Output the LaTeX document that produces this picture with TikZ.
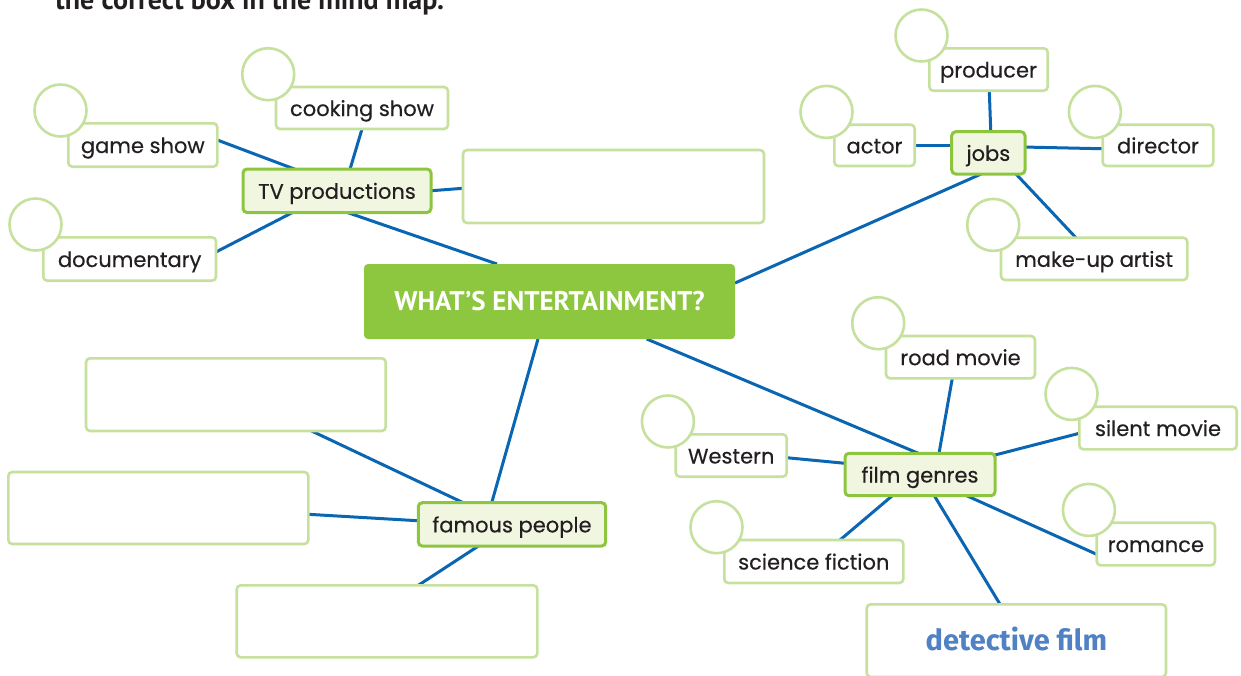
\documentclass[tikz,border=0pt]{standalone}
\usepackage{fontspec}
\setmainfont{Poppins}[FakeBold=0.35]
\newfontfamily\wordfont{Poppins}[FakeBold=0.35]
\newfontfamily\titlefont{PT Sans}
\newfontfamily\handfont{Fira Sans}
\usetikzlibrary{backgrounds}

\definecolor{leafline}{HTML}{C6E09E}
\definecolor{hubline}{HTML}{8CC63F}
\definecolor{hubfill}{HTML}{F1F6E0}
\definecolor{rootfill}{HTML}{8DC63F}
\definecolor{linkblue}{HTML}{0A66B2}
\definecolor{ink}{HTML}{231F20}
\definecolor{handblue}{HTML}{4F81C4}

% box node from its corner coordinates: style, name, x1, y1, x2, y2, text
\newcommand\mmnode[7]{%
  \node[#1, minimum width={(#5-#3)*1pt}, minimum height={(#6-#4)*1pt}]
    (#2) at ({(#3+#5)/2},{(#4+#6)/2}) {#7};}

\begin{document}
\begin{tikzpicture}[x=1pt,y=-1pt,
  leaf/.style={draw=leafline, line width=2.6pt, fill=white, rounded corners=4pt,
    inner sep=0pt, text=ink, font=\wordfont\fontsize{21}{25}\selectfont,
    text height=20pt, text depth=4pt},
  blank/.style={leaf},
  hub/.style={draw=hubline, line width=3pt, fill=hubfill, rounded corners=4pt,
    inner sep=0pt, text=ink, font=\wordfont\fontsize{21}{25}\selectfont,
    text height=20pt, text depth=4pt},
  root/.style={fill=rootfill, rounded corners=4pt, inner sep=0pt, text=white,
    font=\titlefont\bfseries\fontsize{27}{31}\selectfont,
    text height=22pt, text depth=4pt},
  ring/.style={circle, draw=leafline, line width=2.6pt, fill=white,
    minimum size=52pt, inner sep=0pt},
  link/.style={draw=linkblue, line width=3pt},
]
\useasboundingbox (0,0) rectangle (1241,675);
\clip (0,0) rectangle (1241,675);

% instruction line, cut off by the page edge
\node[anchor=base west, inner sep=0pt, text=ink,
  font=\titlefont\bfseries\fontsize{28}{32}\selectfont] (instr) at (55,9.5)
  {the correct box in the mind map.};

% centre
\mmnode{root}{root}{364}{264}{735}{339}{WHAT’S ENTERTAINMENT?}

% TV productions branch
\mmnode{hub}{tv}{243}{169}{431}{212.5}{TV productions}
\mmnode{leaf}{cook}{276}{87}{448}{129}{cooking show}
\mmnode{leaf}{game}{68.3}{123.3}{217.3}{166.7}{game show}
\mmnode{leaf}{doc}{43.3}{237.3}{216}{280.7}{documentary}
\mmnode{blank}{tvblank}{463}{150}{764}{223}{}

% jobs branch
\mmnode{hub}{jobs}{951.7}{131.7}{1025}{174}{jobs}
\mmnode{leaf}{prod}{929.3}{48.3}{1047.7}{90.7}{producer}
\mmnode{leaf}{actor}{834.3}{124.7}{914.7}{166}{actor}
\mmnode{leaf}{dir}{1102.7}{124.7}{1213.3}{166}{director}
\mmnode{leaf}{makeup}{1001}{237.7}{1187.3}{280}{make-up artist}

% film genres branch
\mmnode{hub}{film}{845}{453.3}{995}{495.7}{film genres}
\mmnode{leaf}{road}{886}{336}{1035}{378.3}{road movie}
\mmnode{leaf}{silent}{1079.3}{406.7}{1236.7}{449.3}{silent movie}
\mmnode{leaf}{romance}{1096.7}{522.7}{1215}{565.3}{romance}
\mmnode{leaf}{western}{675.7}{434.3}{786.7}{476.7}{Western}
\mmnode{leaf}{scifi}{724.3}{540}{903.3}{583}{science fiction}
\mmnode{blank}{detective}{866.7}{604.3}{1166}{677}{}
\node[text=handblue, font=\handfont\bfseries\fontsize{29}{32}\selectfont,
  inner sep=0pt, text height=24pt, text depth=4pt] (dettext) at (1016.4,640.8)
  {detective film};

% famous people branch
\mmnode{hub}{famous}{418.3}{502.7}{605.7}{546}{famous people}
\mmnode{blank}{famA}{86}{358.3}{385.7}{431}{}
\mmnode{blank}{famB}{8.3}{472}{308.3}{544}{}
\mmnode{blank}{famC}{236.7}{585.3}{537.3}{657.3}{}

% tick circles at the corners of the word boxes
\foreach \b in {cook,game,doc,prod,actor,dir,makeup,road,silent,romance,western,scifi}
  \node[ring] (\b-ring) at ([shift={(-6.5,-11.5)}]\b.north west) {};

% connectors
\begin{scope}[on background layer]
  \draw[link] ([shift={(74.5,-5)}]game.center) -- ([shift={(-42,-21.5)}]tv.center);
  \draw[link] ([shift={(0,21)}]cook.center) -- ([shift={(13,-21.5)}]tv.center);
  \draw[link] ([shift={(86.3,-7)}]doc.center) -- ([shift={(-44,21.5)}]tv.center);
  \draw[link] ([shift={(94,0)}]tv.center) -- ([shift={(-150.5,1.8)}]tvblank.center);
  \draw[link] ([shift={(9.7,21.5)}]tv.center) -- ([shift={(-52.5,-37.5)}]root.center);

  \draw[link] ([shift={(185.5,-18.5)}]root.center) -- ([shift={(-7.3,21.2)}]jobs.center);
  \draw[link] ([shift={(0.8,21.2)}]prod.center) -- ([shift={(2.4,-21.1)}]jobs.center);
  \draw[link] ([shift={(40.2,0)}]actor.center) -- ([shift={(-36.6,-7.5)}]jobs.center);
  \draw[link] ([shift={(36.7,-5.8)}]jobs.center) -- ([shift={(-55.3,3.4)}]dir.center);
  \draw[link] ([shift={(27.7,21.2)}]jobs.center) -- ([shift={(-18.2,-21.1)}]makeup.center);

  \draw[link] ([shift={(-11.5,37.5)}]root.center) -- ([shift={(-20.3,-21.6)}]famous.center);
  \draw[link] ([shift={(75.7,36.3)}]famA.center) -- ([shift={(-48.7,-21.6)}]famous.center);
  \draw[link] ([shift={(150,6.3)}]famB.center) -- ([shift={(-93.7,-3.6)}]famous.center);
  \draw[link] ([shift={(-33.7,21.7)}]famous.center) -- ([shift={(31.3,-36)}]famC.center);

  \draw[link] ([shift={(97.2,37.5)}]root.center) -- ([shift={(-1.7,-21.2)}]film.center);
  \draw[link] ([shift={(-8.2,21.1)}]road.center) -- ([shift={(19,-21.2)}]film.center);
  \draw[link] ([shift={(-78.7,5.3)}]silent.center) -- ([shift={(75,-19.5)}]film.center);
  \draw[link] ([shift={(46.7,21.2)}]film.center) -- ([shift={(-59.2,10.3)}]romance.center);
  \draw[link] ([shift={(14.3,21.2)}]film.center) -- ([shift={(-16.4,-36.5)}]detective.center);
  \draw[link] ([shift={(55.5,2.2)}]western.center) -- ([shift={(-75,-11.2)}]film.center);
  \draw[link] ([shift={(26.2,-21.5)}]scifi.center) -- ([shift={(-27.7,21.2)}]film.center);
\end{scope}
\end{tikzpicture}
\end{document}
